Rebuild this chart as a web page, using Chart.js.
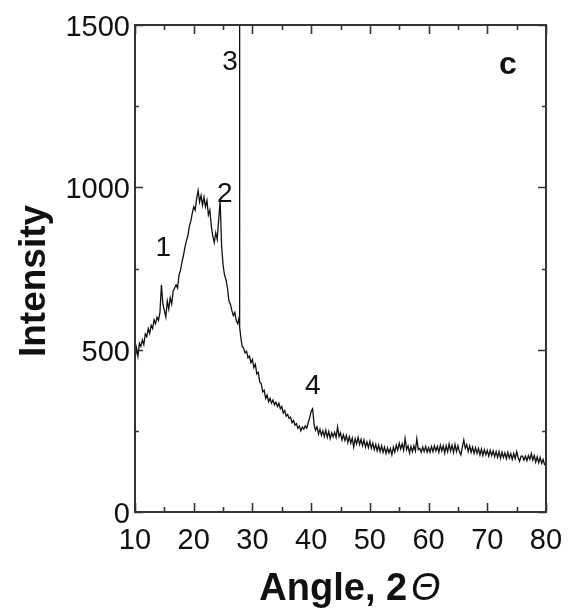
<!DOCTYPE html>
<html><head><meta charset="utf-8">
<script src="https://cdn.jsdelivr.net/npm/chart.js@4/dist/chart.umd.min.js"></script>
<style>html,body{margin:0;padding:0;background:#fff}canvas{display:block}</style>
</head><body>
<canvas id="c" width="581" height="610"></canvas>
<script>
// Diffraction angle 2θ (degrees)
const angles = [
10,10.25,10.5,10.75, 11,11.25,11.5,11.75, 12,12.25,12.5,12.75, 13,13.25,13.5,13.75, 14,14.25,14.5,14.75,
15,15.25,15.5,15.75, 16,16.25,16.5,16.75, 17,17.25,17.5,17.75, 18,18.25,18.5,18.75, 19,19.25,19.5,19.75,
20,20.25,20.5,20.75, 21,21.25,21.5,21.75, 22,22.25,22.5,22.75, 23,23.25,23.5,23.75, 24,24.25,24.5,24.75,
25,25.25,25.5,25.75, 26,26.25,26.5,26.75, 27,27.25,27.5,27.75, 27.8,27.85, 28,28.25,28.5,28.75, 29,29.25,29.5,29.75,
30,30.25,30.5,30.75, 31,31.25,31.5,31.75, 32,32.25,32.5,32.75, 33,33.25,33.5,33.75, 34,34.25,34.5,34.75,
35,35.25,35.5,35.75, 36,36.25,36.5,36.75, 37,37.25,37.5,37.75, 38,38.25,38.5,38.75, 39,39.25,39.5,39.75,
40,40.25,40.5,40.75, 41,41.25,41.5,41.75, 42,42.25,42.5,42.75, 43,43.25,43.5,43.75, 44,44.25,44.5,44.75,
45,45.25,45.5,45.75, 46,46.25,46.5,46.75, 47,47.25,47.5,47.75, 48,48.25,48.5,48.75, 49,49.25,49.5,49.75,
50,50.25,50.5,50.75, 51,51.25,51.5,51.75, 52,52.25,52.5,52.75, 53,53.25,53.5,53.75, 54,54.25,54.5,54.75,
55,55.25,55.5,55.75, 56,56.25,56.5,56.75, 57,57.25,57.5,57.75, 58,58.25,58.5,58.75, 59,59.25,59.5,59.75,
60,60.25,60.5,60.75, 61,61.25,61.5,61.75, 62,62.25,62.5,62.75, 63,63.25,63.5,63.75, 64,64.25,64.5,64.75,
65,65.25,65.5,65.75, 66,66.25,66.5,66.75, 67,67.25,67.5,67.75, 68,68.25,68.5,68.75, 69,69.25,69.5,69.75,
70,70.25,70.5,70.75, 71,71.25,71.5,71.75, 72,72.25,72.5,72.75, 73,73.25,73.5,73.75, 74,74.25,74.5,74.75,
75,75.25,75.5,75.75, 76,76.25,76.5,76.75, 77,77.25,77.5,77.75, 78,78.25,78.5,78.75, 79,79.25,79.5,79.75,
80
];
// Measured intensity (counts), one row per 5 degrees
const intensity = [
470,505,480,520, 510,530,515,548, 540,565,550,575, 565,592,580,600, 590,615,700,640,
620,600,650,625, 660,640,680,690, 700,690,730,745, 770,790,815,835, 850,880,895,920,
940,930,965,990, 955,975,945,970, 940,960,915,930, 880,850,830,860, 840,900,958,820,
760,730,715,690, 650,640,620,605, 615,590,580,600, 2400,570, 540,510,505,490, 495,475,480,460,
470,445,455,425, 430,400,395,370, 375,350,360,340, 350,335,345,330, 338,325,335,318,
325,305,312,295, 300,288,292,275, 282,268,272,258, 265,250,262,255, 265,258,275,290,
310,318,270,252, 262,240,255,236, 250,232,252,230, 248,226,244,232, 246,230,262,232,
244,222,238,220, 236,214,232,212, 228,200,226,210, 230,208,224,204, 222,200,216,198,
218,196,212,192, 208,188,206,186, 204,184,200,180, 198,182,196,176, 200,184,206,190,
212,194,210,190, 226,192,204,182, 202,186,204,188, 226,192,196,184, 200,186,202,184,
198,184,202,186, 204,188,202,184, 206,188,204,182, 204,186,210,188, 206,184,208,186,
204,186,176,200, 222,196,208,186, 204,184,200,180, 198,180,196,176, 194,174,192,176,
190,172,190,174, 188,170,186,168, 186,166,184,168, 182,164,184,166, 180,162,180,164,
186,168,156,172, 172,160,172,158, 174,162,180,160, 174,154,170,152, 168,150,162,146,
145
];
const xTickValues = [10,20,30,40,50,60,70,80];
const xMinorTickValues = [15,25,35,45,55,65,75];
const yTickValues = [0,500,1000,1500];
const yMinorTickValues = [250,750,1250];
const peakLabels = ['1','2','3','4'];
const peakLabelX = [14.8,25.3,26.2,40.3];
const peakLabelY = [813,979,1385,388];
const panelLabel = 'c';
const panelLabelX = 73.5;
const panelLabelY = 1375;
const xTitleParts = ['Angle, 2', 'Θ'];
const yTitle = 'Intensity';

const FONT = "'Liberation Sans', Arial, Helvetica, sans-serif";

const decor = {
  id: 'decor',
  beforeDraw(chart) {
    const ctx = chart.ctx;
    ctx.save();
    ctx.fillStyle = '#fff';
    ctx.fillRect(0, 0, chart.width, chart.height);
    ctx.restore();
  },
  afterDraw(chart) {
    const {ctx, chartArea: a, scales: {x, y}} = chart;
    ctx.save();
    ctx.strokeStyle = '#333';
    ctx.lineWidth = 2;
    ctx.strokeRect(a.left, a.top, a.right - a.left, a.bottom - a.top);
    ctx.lineWidth = 1.6;
    ctx.beginPath();
    const xt = (v, len) => {
      const p = Math.round(x.getPixelForValue(v)) + 0.5;
      ctx.moveTo(p, a.bottom); ctx.lineTo(p, a.bottom - len);
      ctx.moveTo(p, a.top); ctx.lineTo(p, a.top + len);
    };
    const yt = (v, len) => {
      const p = Math.round(y.getPixelForValue(v)) + 0.5;
      ctx.moveTo(a.left, p); ctx.lineTo(a.left + len, p);
      ctx.moveTo(a.right, p); ctx.lineTo(a.right - len, p);
    };
    xTickValues.forEach(v => xt(v, 9));
    xMinorTickValues.forEach(v => xt(v, 5));
    yTickValues.forEach(v => yt(v, 8));
    yMinorTickValues.forEach(v => yt(v, 4));
    ctx.stroke();

    ctx.fillStyle = '#111';
    ctx.textAlign = 'center';
    ctx.textBaseline = 'middle';
    ctx.font = '28px ' + FONT;
    peakLabels.forEach((t, i) => {
      ctx.fillText(t, x.getPixelForValue(peakLabelX[i]), y.getPixelForValue(peakLabelY[i]));
    });
    ctx.font = 'bold 32px ' + FONT;
    ctx.fillText(panelLabel, x.getPixelForValue(panelLabelX), y.getPixelForValue(panelLabelY));

    // x-axis title with italic theta
    const f1 = 'bold 38px ' + FONT;
    const f2 = 'italic 38px ' + FONT;
    ctx.font = f1; const w1 = ctx.measureText(xTitleParts[0]).width;
    ctx.font = f2; const w2 = ctx.measureText(xTitleParts[1]).width;
    const gap = 4;
    const cx = 350, by = 600;
    let sx = cx - (w1 + gap + w2) / 2;
    ctx.textAlign = 'left';
    ctx.textBaseline = 'alphabetic';
    ctx.font = f1; ctx.fillText(xTitleParts[0], sx, by);
    ctx.font = f2; ctx.fillText(xTitleParts[1], sx + w1 + gap, by);

    // y-axis title
    ctx.translate(35, 281);
    ctx.rotate(-Math.PI / 2);
    ctx.textAlign = 'center';
    ctx.textBaseline = 'middle';
    ctx.font = 'bold 37px ' + FONT;
    ctx.fillText(yTitle, 0, 0);
    ctx.restore();
  }
};

new Chart(document.getElementById('c'), {
  type: 'line',
  data: {
    datasets: [{
      data: angles.map((a, i) => ({x: a, y: intensity[i]})),
      borderColor: '#111',
      borderWidth: 1.3,
      pointRadius: 0,
      tension: 0,
      fill: false
    }]
  },
  options: {
    responsive: false,
    animation: false,
    events: [],
    layout: {padding: {left: 0, right: 35, top: 25, bottom: 0}},
    plugins: {legend: {display: false}, tooltip: {enabled: false}},
    scales: {
      x: {
        type: 'linear', min: 10, max: 80,
        afterBuildTicks(s) { s.ticks = xTickValues.map(v => ({value: v})); },
        grid: {display: false, drawTicks: false},
        border: {display: false},
        ticks: {padding: 12, autoSkip: false, maxRotation: 0, color: '#111',
                font: {family: FONT, size: 29}, callback: v => String(v)},
        afterFit(s) { s.height = 98; s.paddingLeft = 0; s.paddingRight = 0; }
      },
      y: {
        type: 'linear', min: 0, max: 1500,
        afterBuildTicks(s) { s.ticks = yTickValues.map(v => ({value: v})); },
        grid: {display: false, drawTicks: false},
        border: {display: false},
        ticks: {padding: 5, labelOffset: 3, autoSkip: false, color: '#111',
                font: {family: FONT, size: 29}, callback: v => String(v)},
        afterFit(s) { s.width = 135; s.paddingTop = 0; s.paddingBottom = 0; }
      }
    }
  },
  plugins: [decor]
});
</script>
</body></html>
